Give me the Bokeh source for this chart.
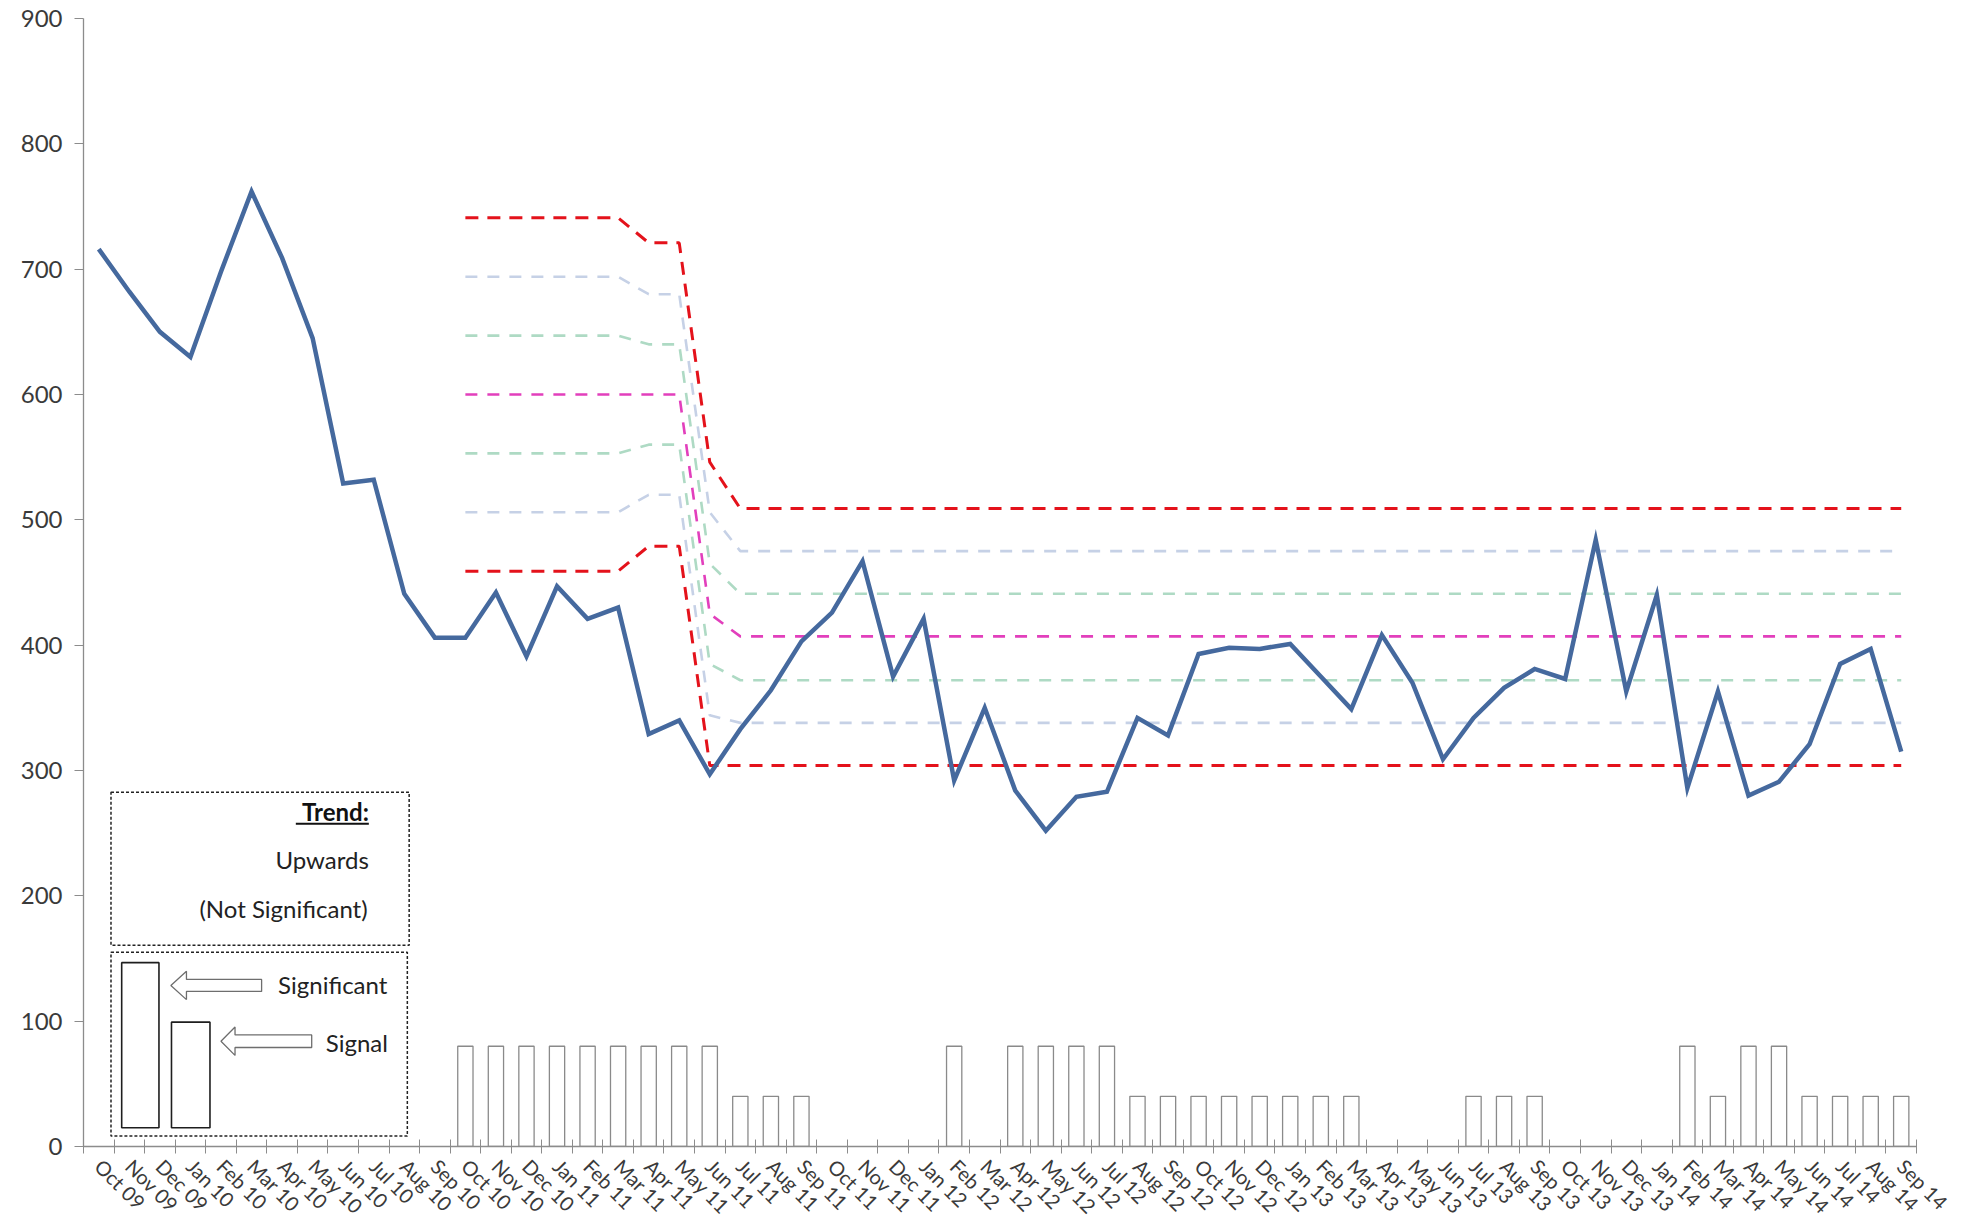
import math
from bokeh.plotting import figure
from bokeh.models import FixedTicker, Range1d
from bokeh.core.properties import value
from bokeh.embed import file_html
from bokeh.resources import INLINE

# ---------------- data ----------------
months = ["Oct 09", "Nov 09", "Dec 09", "Jan 10", "Feb 10", "Mar 10", "Apr 10", "May 10", "Jun 10", "Jul 10",
          "Aug 10", "Sep 10", "Oct 10", "Nov 10", "Dec 10", "Jan 11", "Feb 11", "Mar 11", "Apr 11", "May 11",
          "Jun 11", "Jul 11", "Aug 11", "Sep 11", "Oct 11", "Nov 11", "Dec 11", "Jan 12", "Feb 12", "Mar 12",
          "Apr 12", "May 12", "Jun 12", "Jul 12", "Aug 12", "Sep 12", "Oct 12", "Nov 12", "Dec 12", "Jan 13",
          "Feb 13", "Mar 13", "Apr 13", "May 13", "Jun 13", "Jul 13", "Aug 13", "Sep 13", "Oct 13", "Nov 13",
          "Dec 13", "Jan 14", "Feb 14", "Mar 14", "Apr 14", "May 14", "Jun 14", "Jul 14", "Aug 14", "Sep 14"]

measure = [716, 682, 650, 630, 698, 762, 709, 645, 529, 532,
           441, 406, 406, 442, 391, 447, 421, 430, 329, 340,
           297, 333, 364, 403, 426, 467, 375, 421, 292, 350,
           284, 252, 279, 283, 342, 328, 393, 398, 397, 401,
           375, 349, 408, 370, 309, 342, 366, 381, 373, 484,
           363, 440, 286, 363, 280, 291, 321, 385, 397, 315]

# signal bars (80 = significant, 40 = signal, 0 = none)
signals = [0, 0, 0, 0, 0, 0, 0, 0, 0, 0,
           0, 0, 80, 80, 80, 80, 80, 80, 80, 80,
           80, 40, 40, 40, 0, 0, 0, 0, 80, 0,
           80, 80, 80, 80, 40, 40, 40, 40, 40, 40,
           40, 40, 0, 0, 0, 40, 40, 40, 0, 0,
           0, 0, 80, 40, 80, 80, 40, 40, 40, 40]

# control limits from Oct 10 (index 12) to Sep 14
limit_start = 12
ucl = [741] * 6 + [721] * 2 + [546] + [509] * 39
upper2 = [694] * 6 + [680] * 2 + [506] + [475] * 39
upper1 = [647] * 6 + [640] * 2 + [465] + [441] * 39
centre = [600] * 6 + [600] * 2 + [425] + [407] * 39
lower1 = [553] * 6 + [560] * 2 + [385] + [372] * 39
lower2 = [506] * 6 + [520] * 2 + [344] + [338] * 39
lcl = [459] * 6 + [479] * 2 + [304] + [304] * 39

y_ticks = [0, 100, 200, 300, 400, 500, 600, 700, 800, 900]

# ---------------- styles ----------------
FONT = "Lato"
AXIS_COL = "#8C8C8C"
TXT_COL = "#3A3A3A"
BLUE = "#45699E"
RED = "#E4121B"
MAGENTA = "#E23FBC"
LBLUE = "#C6D1E6"
LGREEN = "#AEDAC4"

p = figure(width=1966, height=1229,
           x_range=Range1d(-0.5, 59.5), y_range=Range1d(0, 900),
           output_backend="svg", toolbar_location=None,
           min_border_left=83, min_border_right=50,
           min_border_top=18, min_border_bottom=82)
p.outline_line_color = None
p.xgrid.visible = False
p.ygrid.visible = False
p.background_fill_color = "white"
p.border_fill_color = "white"

# x axis
xs = list(range(len(months)))
p.xaxis.ticker = FixedTicker(ticks=xs, minor_ticks=[i - 0.5 for i in range(len(months) + 1)])
p.xaxis.major_label_overrides = {i: m for i, m in enumerate(months)}
p.xaxis.major_tick_line_color = None
p.xaxis.major_tick_in = 0
p.xaxis.major_tick_out = 7
p.xaxis.minor_tick_line_color = AXIS_COL
p.xaxis.minor_tick_in = 7
p.xaxis.minor_tick_out = 7
p.xaxis.axis_line_color = AXIS_COL
p.xaxis.axis_line_width = 1.3
p.xaxis.major_label_orientation = -math.pi / 4
p.xaxis.major_label_text_font = FONT
p.xaxis.major_label_text_font_size = "20px"
p.xaxis.major_label_text_color = TXT_COL
p.xaxis.major_label_standoff = 9

# y axis
p.yaxis.ticker = FixedTicker(ticks=y_ticks)
p.yaxis.major_tick_out = 9
p.yaxis.major_tick_in = 0
p.yaxis.minor_tick_line_color = None
p.yaxis.major_tick_line_color = AXIS_COL
p.yaxis.axis_line_color = AXIS_COL
p.yaxis.axis_line_width = 1.3
p.yaxis.major_label_text_font = FONT
p.yaxis.major_label_text_font_size = "24px"
p.yaxis.major_label_text_color = TXT_COL
p.yaxis.major_label_standoff = 12

# signal bars
bar_x = [i for i, s in zip(xs, signals) if s > 0]
bar_top = [s for s in signals if s > 0]
p.vbar(x=bar_x, top=bar_top, bottom=0, width=0.5,
       fill_color="white", line_color="#8A8A8A", line_width=1.3)

# control lines
lx = list(range(limit_start, len(months)))
for series, col, w, dash in [(upper2, LBLUE, 2.6, "12 10"), (lower2, LBLUE, 2.6, "12 10"),
                             (upper1, LGREEN, 2.6, "12 10"), (lower1, LGREEN, 2.6, "12 10"),
                             (centre, MAGENTA, 2.6, "12 10"),
                             (ucl, RED, 3.0, "13 9"), (lcl, RED, 3.0, "13 9")]:
    p.line(x=lx, y=series, line_color=col, line_width=w, line_dash=dash)

# measure line
p.line(x=xs, y=measure, line_color=BLUE, line_width=4.5, line_join="miter")

# ---------------- legend panels (annotation layout) ----------------
BOX = "#222222"
p.quad(left=[0.4], right=[10.16], bottom=[160.5], top=[282.7],
       fill_color="white", fill_alpha=0, line_color=BOX, line_width=1.5, line_dash="3 2")
p.quad(left=[0.4], right=[10.1], bottom=[8.3], top=[154.9],
       fill_color="white", fill_alpha=0, line_color=BOX, line_width=1.5, line_dash="3 2")
p.quad(left=[0.75, 2.38], right=[1.97, 3.64], bottom=[15, 15], top=[146.7, 99.2],
       fill_color="white", line_color="#1E1E1E", line_width=1.6)


def arrow(tip, head_base, tail, yc, body_h, head_h):
    xs_ = [tip, head_base, head_base, tail, tail, head_base, head_base]
    ys_ = [yc, yc + head_h, yc + body_h, yc + body_h, yc - body_h, yc - body_h, yc - head_h]
    p.patch(xs_, ys_, fill_color="white", line_color="#6E6E6E", line_width=1.3)


arrow(2.36, 2.87, 5.33, 128.5, 4.8, 11.3)
arrow(4.0, 4.46, 6.97, 84.0, 5.0, 11.3)

TF = value(FONT)
p.text(x=[8.84], y=[267], text=["Trend:"], text_align="right", text_baseline="middle",
       text_font=TF, text_font_size="24px", text_font_style="bold", text_color="#111111")
p.segment(x0=[6.45], x1=[8.84], y0=[257.5], y1=[257.5], line_color="#111111", line_width=2)
p.text(x=[8.84], y=[229], text=["Upwards"], text_align="right", text_baseline="middle",
       text_font=TF, text_font_size="24px", text_color="#222222")
p.text(x=[8.8], y=[190], text=["(Not Significant)"], text_align="right", text_baseline="middle",
       text_font=TF, text_font_size="24px", text_color="#222222")
p.text(x=[5.87], y=[129], text=["Significant"], text_align="left", text_baseline="middle",
       text_font=TF, text_font_size="24px", text_color="#222222")
p.text(x=[7.43], y=[83], text=["Signal"], text_align="left", text_baseline="middle",
       text_font=TF, text_font_size="24px", text_color="#222222")

open("out.html", "w").write(file_html(p, INLINE))
